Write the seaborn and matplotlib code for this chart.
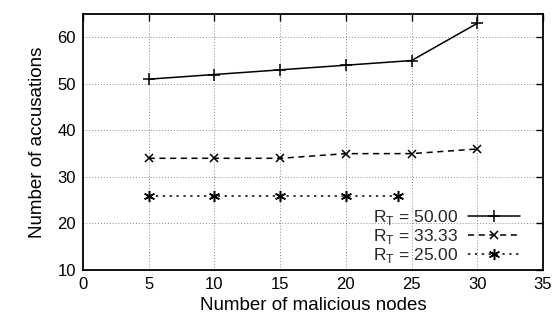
import matplotlib
matplotlib.use("Agg")
import matplotlib.pyplot as plt
import seaborn as sns
import pandas as pd

x50 = [5, 10, 15, 20, 25, 30]
y50 = [51, 52, 53, 54, 55, 63]
x33 = [5, 10, 15, 20, 25, 30]
y33 = [34, 34, 34, 35, 35, 36]
x25 = [5, 10, 15, 20, 24]
y25 = [26, 26, 26, 26, 26]
labels = [r"R$_\mathregular{T}$ = 50.00", r"R$_\mathregular{T}$ = 33.33", r"R$_\mathregular{T}$ = 25.00"]
xticks = [0, 5, 10, 15, 20, 25, 30, 35]
yticks = [10, 20, 30, 40, 50, 60]

sns.set_theme(style="white")
plt.rcParams['font.family'] = ['Liberation Sans', 'DejaVu Sans']
plt.rcParams['mathtext.fontset'] = 'custom'
plt.rcParams['mathtext.rm'] = 'Liberation Sans'

fig = plt.figure(figsize=(5.55, 3.25), dpi=100)
ax = fig.add_axes([83/555, 1-270/325, (543-83)/555, (270-14)/325])

frames = [
    pd.DataFrame({"x": x50, "y": y50}),
    pd.DataFrame({"x": x33, "y": y33}),
    pd.DataFrame({"x": x25, "y": y25}),
]
styles = [("-", "+", 8), ((0, (4, 3)), "x", 6), ((0, (1.5, 3)), (6, 2, 0), 8)]
for df, lab, (ls, mk, ms) in zip(frames, labels, styles):
    sns.lineplot(data=df, x="x", y="y", ax=ax, color="black", linewidth=1.1,
                 linestyle=ls, marker=mk, markersize=ms, markeredgewidth=1.1,
                 markeredgecolor="black", label=lab)

ax.set_xlim(0, 35)
ax.set_ylim(10, 65)
ax.set_xticks(xticks)
ax.set_yticks(yticks)
ax.grid(True, color="#888888", linestyle=(0, (1, 2)), linewidth=0.7)
ax.tick_params(direction="in", length=5, width=1.0, top=True, right=True,
               labelsize=12, colors="black", pad=5)
for s in ax.spines.values():
    s.set_color("black")
    s.set_linewidth(1.3)
ax.set_xlabel("Number of malicious nodes", fontsize=13.5, color="black", labelpad=4)
ax.set_ylabel("Number of accusations", fontsize=13.5, color="black", labelpad=8)

leg = ax.legend(loc="lower right", frameon=False, markerfirst=False,
                fontsize=12.5, handlelength=3.0, handletextpad=0.6,
                labelspacing=0.0, borderaxespad=0.0, borderpad=0.3,
                bbox_to_anchor=(0.962, 0.0))
for t in leg.get_texts():
    t.set_ha("right")

fig.savefig("out.png", dpi=100)
